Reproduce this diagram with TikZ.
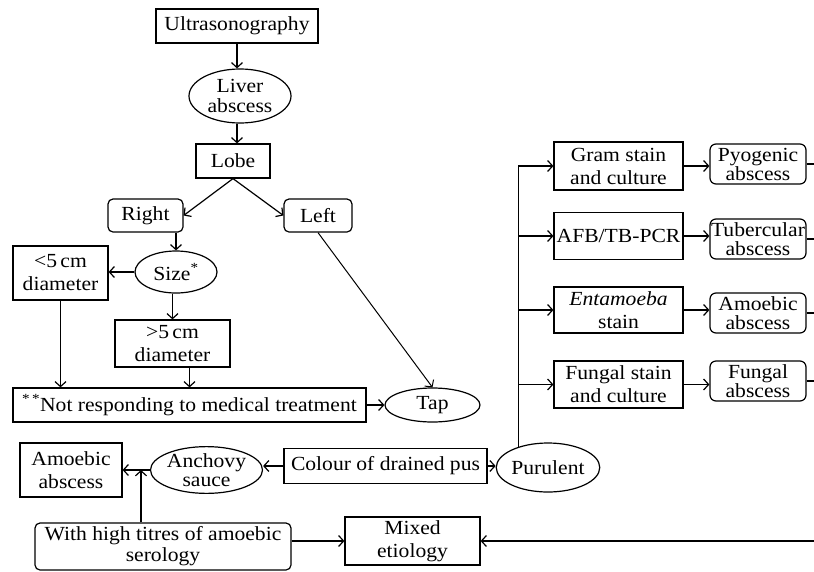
\documentclass[tikz,border=0pt]{standalone}
\usepackage{fontspec}
\setmainfont{Liberation Serif}[FakeStretch=1.08]
\usetikzlibrary{arrows.meta,shapes.geometric}
\begin{document}
\begin{tikzpicture}[x=1pt,y=-1pt,line width=1.2pt,
  every node/.style={font=\fontsize{20}{23}\selectfont,align=center,inner sep=0pt},
  sq/.style={draw,rectangle},
  rbox/.style={draw,rectangle,rounded corners=5pt},
  res/.style={draw,rectangle,rounded corners=6pt,font=\fontsize{20}{19}\selectfont},
  ell/.style={draw,ellipse,font=\fontsize{20}{20}\selectfont},
  arr/.style={-{Straight Barb[length=5pt,width=11pt]}},
]
\useasboundingbox (0,0) rectangle (814,571);
% left tree
\node[sq,minimum width=162,minimum height=34] (us) at (237,26) {Ultrasonography};
\node[ell,minimum width=102,minimum height=54] (liver) at (240,96) {Liver\\abscess};
\node[sq,minimum width=74,minimum height=34] (lobe) at (233,161) {Lobe};
\node[rbox,minimum width=75,minimum height=33] (right) at (145.5,215.5) {Right};
\node[rbox,minimum width=68,minimum height=33] (left) at (318,215.5) {Left};
\node[ell,minimum width=82,minimum height=42] (size) at (176,272) {Size\textsuperscript{*}};
\node[sq,minimum width=95,minimum height=54] (lt5) at (60.5,273) {<5\,cm\\diameter};
\node[sq,minimum width=115,minimum height=47] (gt5) at (172.5,343.5) {>5\,cm\\diameter};
\node[sq,minimum width=353,minimum height=34] (notresp) at (189.5,405) {\textsuperscript{*\,*}Not responding to medical treatment};
\node[ell,minimum width=95,minimum height=34] (tap) at (432.5,405) {Tap};
% bottom row
\node[sq,minimum width=102,minimum height=54] (amL) at (71,470) {Amoebic\\abscess};
\node[ell,minimum width=101,minimum height=46,font=\fontsize{20}{19}\selectfont] (anch) at (206.5,470) {Anchovy\\sauce};
\node[sq,minimum width=203,minimum height=35] (colour) at (385.5,466) {Colour of drained pus};
\node[ell,minimum width=96,minimum height=49] (pur) at (548,467.5) {Purulent};
\node[rbox,minimum width=256,minimum height=47,font=\fontsize{20}{21}\selectfont] (high) at (163,546.5) {With high titres of amoebic\\serology};
\node[sq,minimum width=135,minimum height=48] (mixed) at (412.5,541) {Mixed\\etiology};
% right column
\node[sq,minimum width=129,minimum height=48] (gram) at (618.5,166) {Gram stain\\and culture};
\node[sq,minimum width=129,minimum height=47] (afb) at (618.5,236) {AFB/TB-PCR};
\node[sq,minimum width=129,minimum height=46] (ent) at (618.5,310) {\textit{Entamoeba}\\stain};
\node[sq,minimum width=129,minimum height=47] (fun) at (618.5,384.5) {Fungal stain\\and culture};
\node[res,minimum width=96,minimum height=40] (pyo) at (758,164) {Pyogenic\\abscess};
\node[res,minimum width=96,minimum height=40] (tub) at (758,239) {Tubercular\\abscess};
\node[res,minimum width=96,minimum height=40] (amo) at (758,313) {Amoebic\\abscess};
\node[res,minimum width=96,minimum height=40] (fgl) at (758,381) {Fungal\\abscess};
\coordinate (rx) at (819,541);
\coordinate (j) at (141,470);
% connectors
\draw[arr] (us.south) -- (us.south |- liver.north);
\draw[arr] (liver.south -| us.south) -- (us.south |- lobe.north);
\draw[arr] (lobe.south) -- (right.east);
\draw[arr] (lobe.south) -- (left.west);
\draw[arr] (size.north |- right.south) -- (size.north);
\draw[arr] (size.west) -- (lt5.east |- size.west);
\draw[arr] (gt5.north |- size.south) -- (gt5.north);
\draw[arr] (lt5.south) -- (lt5.south |- notresp.north);
\draw[arr] (notresp.north |- gt5.south) -- (notresp.north);
\draw[arr,line width=1pt] (left.south) -- (tap.north);
\draw[arr] (notresp.east) -- (tap.west);
\draw[arr] (colour.west) -- (colour.west -| anch.east);
\draw[arr] (colour.east) -- (colour.east -| pur.west);
\draw[arr] (anch.west) -- (anch.west -| amL.east);
\draw[arr] (high.north -| j) -- (j);
\draw[arr] (high.east |- mixed.west) -- (mixed.west);
\draw (pur.145) -- (pur.145 |- gram.west);
\draw[arr] (pur.145 |- gram.west) -- (gram.west);
\draw[arr] (pur.145 |- afb.west) -- (afb.west);
\draw[arr] (pur.145 |- ent.west) -- (ent.west);
\draw[arr] (pur.145 |- fun.west) -- (fun.west);
\draw[arr] (gram.east) -- (gram.east -| pyo.west);
\draw[arr] (afb.east) -- (afb.east -| tub.west);
\draw[arr] (ent.east) -- (ent.east -| amo.west);
\draw[arr] (fun.east) -- (fun.east -| fgl.west);
\draw (pyo.east) -- (pyo.east -| rx);
\draw (tub.east) -- (tub.east -| rx);
\draw (amo.east) -- (amo.east -| rx);
\draw (fgl.east) -- (fgl.east -| rx);
\draw (pyo.east -| rx) -- (rx);
\draw[arr] (rx) -- (mixed.east);
\end{tikzpicture}
\end{document}
